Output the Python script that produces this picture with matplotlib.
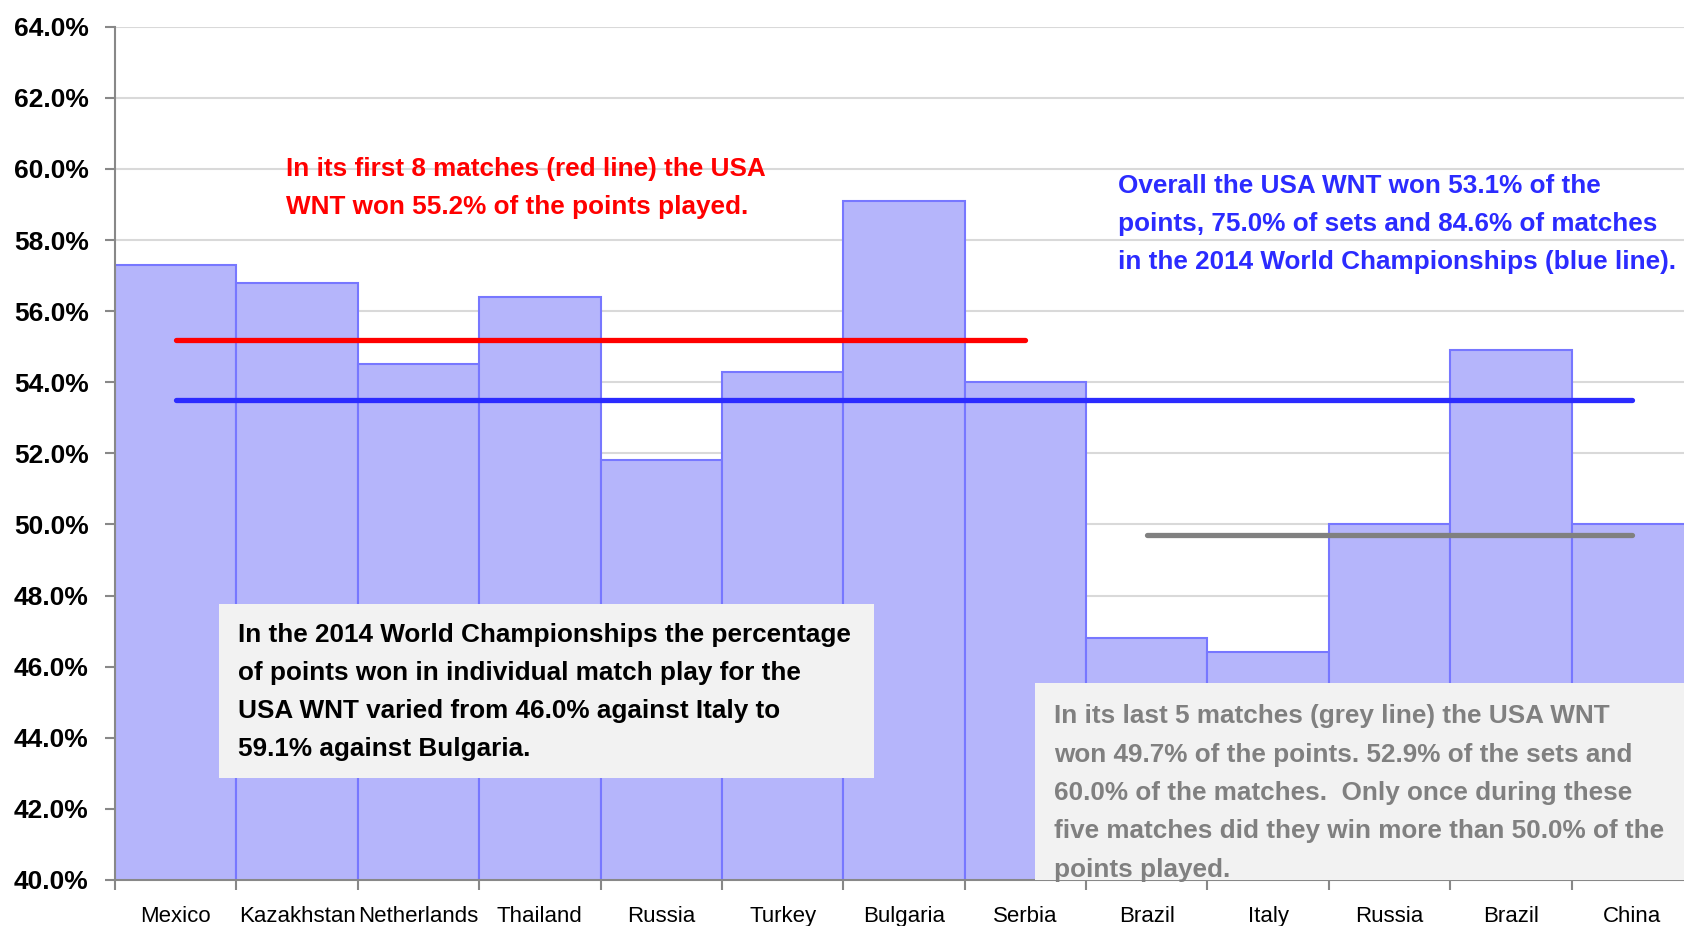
import matplotlib
matplotlib.use("Agg")
import matplotlib.pyplot as plt
from matplotlib.patches import Rectangle
from matplotlib.ticker import FuncFormatter, MultipleLocator

plt.rcParams['font.family'] = ['Liberation Sans', 'DejaVu Sans']

# USA WNT, 2014 World Championships: % of points won per match
opponents = ['Mexico', 'Kazakhstan', 'Netherlands', 'Thailand', 'Russia', 'Turkey',
             'Bulgaria', 'Serbia', 'Brazil', 'Italy', 'Russia', 'Brazil', 'China']
pct_won = [57.3, 56.8, 54.5, 56.4, 51.8, 54.3, 59.1, 54.0, 46.8, 46.4, 50.0, 54.9, 50.0]

first8_avg = 55.2
overall_avg = 53.5
last5_avg = 49.7

W, H = 1684, 926
fig = plt.figure(figsize=(W / 100, H / 100), dpi=100)

def fx(px):
    return px / W

def fy(py):
    return 1 - py / H

ax = fig.add_axes([fx(115), fy(880), 1578 / W, (880 - 26.7) / H])

x = list(range(len(opponents)))
ax.bar(x, pct_won, width=1.0, bottom=0, color='#b5b5fb', edgecolor='#7777ff', linewidth=1.5, zorder=2)

ax.plot([0, 7], [first8_avg] * 2, color='#ff0000', lw=3.8, solid_capstyle='round', zorder=3)
ax.plot([0, 12], [overall_avg] * 2, color='#2b2bff', lw=3.8, solid_capstyle='round', zorder=3)
ax.plot([8, 12], [last5_avg] * 2, color='#808080', lw=3.8, solid_capstyle='round', zorder=3)

ax.set_xlim(-0.5, 12.5)
ax.set_ylim(40, 64)
ax.yaxis.set_major_locator(MultipleLocator(2))
ax.yaxis.set_major_formatter(FuncFormatter(lambda v, p: f'{v:.1f}%'))
ax.grid(axis='y', color='#d9d9d9', lw=1.5, zorder=0)
ax.set_axisbelow(True)

ax.set_xticks(x)
ax.set_xticklabels(opponents, fontsize=16)
ax.set_xticks([i + 0.5 for i in range(-1, 13)], minor=True)
ax.tick_params(axis='x', which='major', length=0, pad=19)
ax.tick_params(axis='x', which='minor', length=7, width=1.5, color='#888888', direction='out')
ax.tick_params(axis='y', length=7, width=1.5, color='#888888', labelsize=19, pad=12)
for lab in ax.get_yticklabels():
    lab.set_fontweight('bold')

for s in ['top', 'right']:
    ax.spines[s].set_visible(False)
for s in ['left', 'bottom']:
    ax.spines[s].set_color('#888888')
    ax.spines[s].set_linewidth(1.5)

# annotations
fs = 18.8
ls = 1.75
fig.text(fx(286), fy(188), 'In its first 8 matches (red line) the USA\nWNT won 55.2% of the points played.',
         color='#ff0000', fontsize=fs, fontweight='bold', va='center', ha='left', linespacing=ls)

fig.text(fx(1118), fy(224), 'Overall the USA WNT won 53.1% of the\npoints, 75.0% of sets and 84.6% of matches\n'
         'in the 2014 World Championships (blue line).',
         color='#2b2bff', fontsize=fs, fontweight='bold', va='center', ha='left', linespacing=ls)

fig.add_artist(Rectangle((fx(219), fy(778)), fx(874 - 219), (778 - 604) / H,
                         transform=fig.transFigure, facecolor='#f2f2f2', edgecolor='none', zorder=5))
fig.text(fx(238), fy(692), 'In the 2014 World Championships the percentage\nof points won in individual match play for the\n'
         'USA WNT varied from 46.0% against Italy to\n59.1% against Bulgaria.',
         color='black', fontsize=fs, fontweight='bold', va='center', ha='left', linespacing=ls, zorder=6)

fig.add_artist(Rectangle((fx(1035), fy(880)), fx(W - 1035), (880 - 683) / H,
                         transform=fig.transFigure, facecolor='#f2f2f2', edgecolor='none', zorder=5))
fig.text(fx(1054), fy(793), 'In its last 5 matches (grey line) the USA WNT\nwon 49.7% of the points. 52.9% of the sets and\n'
         '60.0% of the matches.  Only once during these\nfive matches did they win more than 50.0% of the\n'
         'points played.',
         color='#808080', fontsize=fs, fontweight='bold', va='center', ha='left', linespacing=ls, zorder=6)

fig.savefig('out.png', dpi=100)
